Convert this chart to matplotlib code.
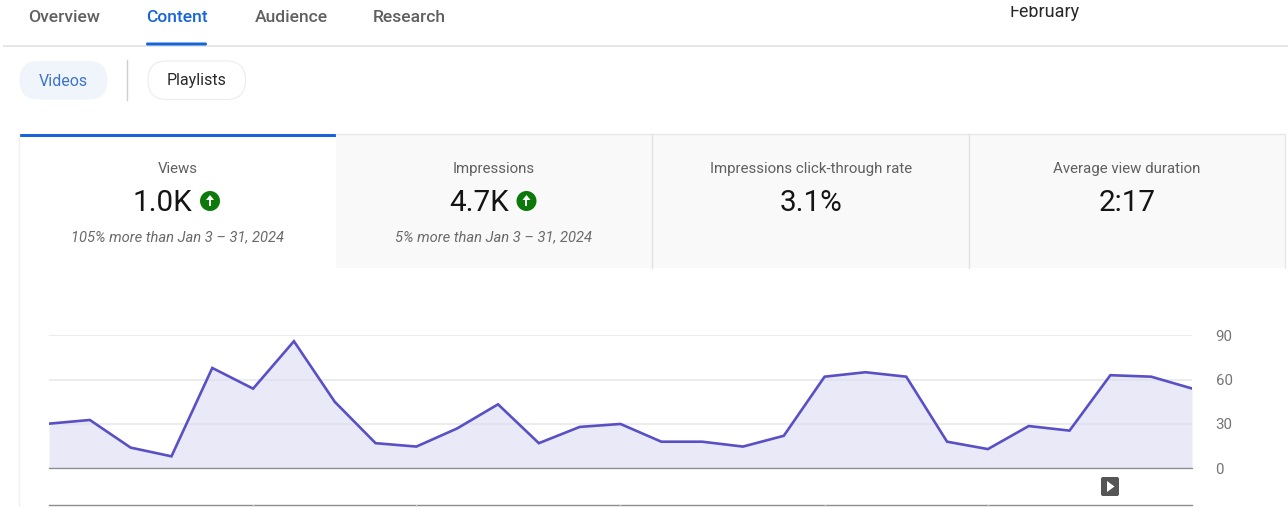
import numpy as np
import matplotlib
matplotlib.use('Agg')
import matplotlib.pyplot as plt
from matplotlib.patches import Rectangle, FancyBboxPatch, Circle, Polygon

plt.rcParams['font.family'] = ['Roboto', 'DejaVu Sans']

W, H = 1288, 507

views = [30.2, 32.7, 14, 8.1, 67.9, 53.9, 86, 45, 17, 14.7, 27, 43.3, 17, 28, 30,
         18, 18, 14.7, 22, 62, 65, 62, 18, 13, 28.6, 25.5, 63, 62, 54]
y_ticks = [0, 30, 60, 90]
nav_labels = ['Overview', 'Content', 'Audience', 'Research']
card_titles = ['Views', 'Impressions', 'Impressions click-through rate', 'Average view duration']
card_values = ['1.0K', '4.7K', '3.1%', '2:17']
card_notes = ['105% more than Jan 3 – 31, 2024', '5% more than Jan 3 – 31, 2024', '', '']

fig = plt.figure(figsize=(W / 100, H / 100), dpi=100, facecolor='white')

# page furniture, drawn in pixel coordinates
bg = fig.add_axes([0, 0, 1, 1])
bg.set_xlim(0, W)
bg.set_ylim(H, 0)
bg.axis('off')

nav_x = [64, 177, 291, 409]
for i, (x, label) in enumerate(zip(nav_x, nav_labels)):
    bg.text(x, 17.5, label, ha='center', va='center', fontsize=12.6,
            color='#1565d8' if i == 1 else '#606060',
            fontweight='medium')
bg.text(1044.5, 12, 'February', ha='center', va='center', fontsize=13, color='#282828')
# the screenshot cuts the month label off at the top
bg.add_patch(Rectangle((990, 0), 110, 6, color='white', lw=0, zorder=5))
bg.add_patch(Rectangle((3, 45), W - 3, 1.5, color='#e6e6e6', lw=0))
bg.add_patch(FancyBboxPatch((146, 42.5), 61, 3, boxstyle='round,pad=0,rounding_size=1.5',
                            color='#1565d8', lw=0))

bg.add_patch(FancyBboxPatch((19.5, 61), 88, 38.5, boxstyle='round,pad=0,rounding_size=19',
                            fc='#eff5fb', ec='none'))
bg.add_patch(FancyBboxPatch((148, 61), 97.5, 38.5, boxstyle='round,pad=0,rounding_size=19',
                            fc='white', ec='#ececec', lw=0.8))
bg.plot([127.5, 127.5], [60, 100], color='#cfcfcf', lw=1)
bg.text(63, 81, 'Videos', ha='center', va='center', fontsize=11.5, color='#3f72c9')
bg.text(197, 81, 'Playlists', ha='center', va='center', fontsize=11.5, color='#282828')

# metric cards
bg.add_patch(Rectangle((336, 134), 950, 134, color='#f9f9f9', lw=0))
bg.plot([19.5, 19.5], [134, 507], color='#f0f0f0', lw=1)
bg.plot([336, 1285], [134, 134], color='#e8e8e8', lw=1)
bg.plot([1285.5, 1285.5], [134, 268], color='#e8e8e8', lw=1)
for x in [652.5, 969]:
    bg.plot([x, x], [134, 268], color='#e2e2e2', lw=1)
bg.add_patch(Rectangle((20, 134), 316, 3.2, color='#1565d8', lw=0))

card_cx = [177.5, 494, 811, 1127]
value_cx = [162.5, 479, 811, 1127]
for i in range(4):
    bg.text(card_cx[i], 169, card_titles[i], ha='center', va='center', fontsize=10.8, color='#606060')
    bg.text(value_cx[i], 203, card_values[i], ha='center', va='center', fontsize=21.3, color='#141414')
    if card_notes[i]:
        bg.text(card_cx[i], 237, card_notes[i], ha='center', va='center', fontsize=10.6,
                style='italic', color='#6a6a6a')
    if i < 2:
        cx, cy = value_cx[i] + 47.5, 201
        bg.add_patch(Circle((cx, cy), 10, fc='#0b7a0b', ec='none'))
        bg.plot([cx, cx], [cy + 5, cy - 3], color='white', lw=1.4, solid_capstyle='butt')
        bg.add_patch(Polygon([[cx - 4, cy - 1], [cx, cy - 6], [cx + 4, cy - 1]], fc='white', ec='none'))

# bottom axis strip and play marker
bg.plot([49, 1192], [504.5, 504.5], color='#8c8c8c', lw=1)
for x in [253, 416, 620, 825, 988]:
    bg.plot([x, x], [504.5, 507], color='#d8d8d8', lw=1)
bg.add_patch(FancyBboxPatch((1101, 477), 18, 19, boxstyle='round,pad=0,rounding_size=2',
                            fc='#555555', ec='none'))
bg.add_patch(Polygon([[1107, 481], [1114.5, 486.5], [1107, 492]], fc='white', ec='none'))

# line chart, axes placed over the pixel box of the plot
left, right, top, bottom = 49, 1192, 335.3, 468.3
ax = fig.add_axes([left / W, 1 - bottom / H, (right - left) / W, (bottom - top) / H])
ax.patch.set_alpha(0)
x = np.arange(len(views))
ax.fill_between(x, views, 0, color='#d9d8f2', alpha=0.55, lw=0, zorder=3)
ax.plot(x, views, color='#5a50c6', lw=1.9, solid_joinstyle='miter', zorder=4)
ax.set_xlim(0, len(views) - 1)
ax.set_ylim(0, 90)
ax.set_yticks(y_ticks)
ax.set_xticks([])
ax.yaxis.tick_right()
ax.tick_params(axis='y', length=0, pad=17, labelsize=10.8, labelcolor='#757575')
ax.grid(axis='y', color='#ebebeb', lw=1.3, zorder=1)
ax.set_axisbelow(True)
for s in ['top', 'left', 'right']:
    ax.spines[s].set_visible(False)
ax.spines['bottom'].set_color('#8c8c8c')
ax.spines['bottom'].set_linewidth(0.9)
ax.spines['bottom'].set_zorder(5)

fig.savefig('out.png', dpi=100)
